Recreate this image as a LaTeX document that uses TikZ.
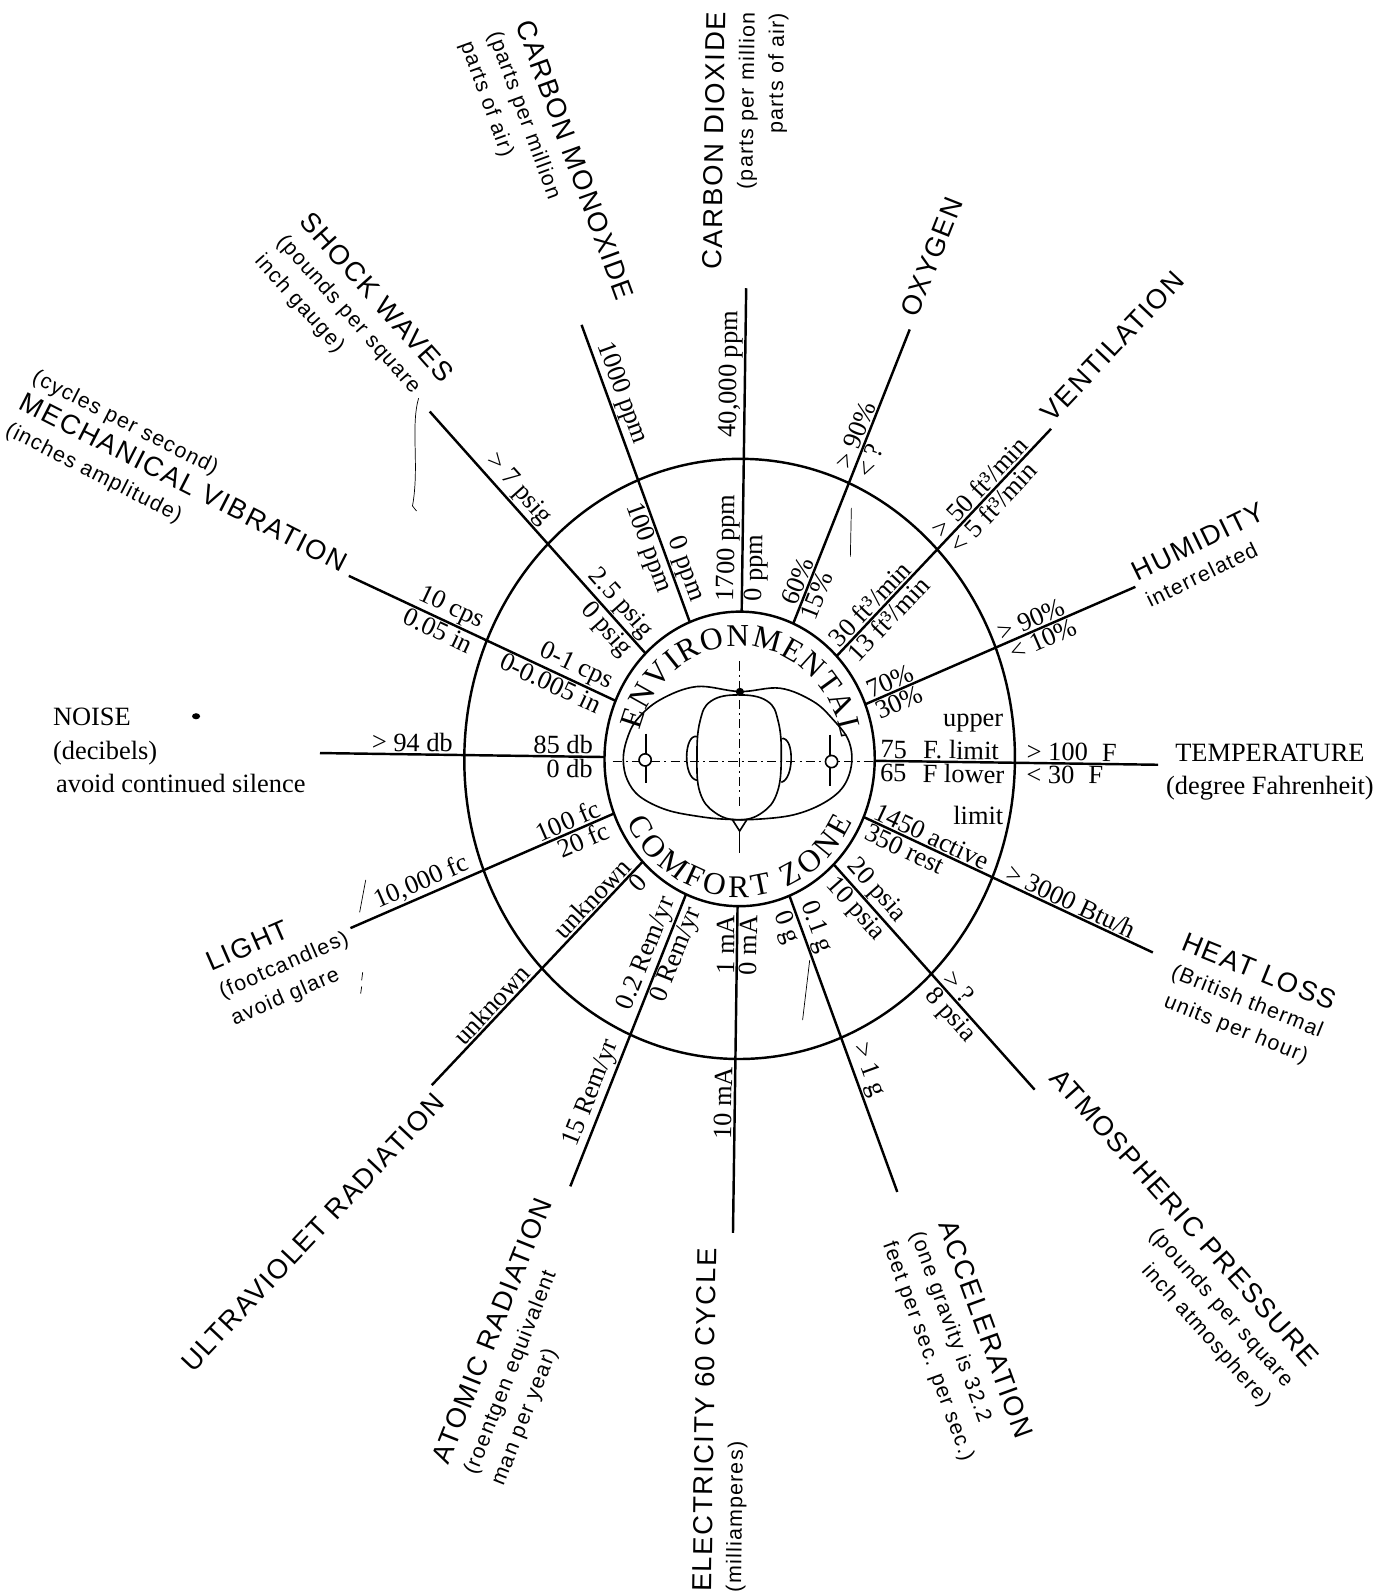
\documentclass[tikz,border=0pt]{standalone}
\usepackage{fontspec}
\setmainfont{Liberation Serif}
\newfontfamily\ttlfam[LetterSpace=6]{Liberation Sans}
\usetikzlibrary{decorations.text}

% type sizes (1 unit = 1pt)
\newcommand\titlefont{\ttlfam\fontsize{27}{31}\selectfont}
\newcommand\subfont{\ttlfam\fontsize{21}{29}\selectfont}
\newcommand\valfont{\rmfamily\fontsize{26}{29}\selectfont}
\newcommand\serfont{\rmfamily\fontsize{26}{33}\selectfont}
\newcommand\ringfont{\rmfamily\fontsize{31}{34}\selectfont}

\tikzset{
  ring/.style={line width=2.4pt},
  spoke/.style={line width=2.4pt},
  val/.style={font=\valfont, inner sep=2.5pt, outer sep=0pt},
  ttl/.style={font=\subfont, inner sep=0pt},
  axisline/.style={line width=1.3pt, dash pattern=on 9pt off 4pt on 2pt off 4pt},
  figure/.style={line width=1.6pt},
  pencil/.style={line width=0.7pt},
}

% value label beside a spoke: name, text angle, anchor, spoke angle, radius, text
\newcommand\lbl[6]{\node[val, rotate=#2, anchor=#3] (#1) at (#4:#5) {#6};}

\begin{document}
\begin{tikzpicture}[x=1pt,y=1pt]
\useasboundingbox (0,0) rectangle (1363,-1568);
\clip (0,0) rectangle (1363,-1568);

% ---------- rings and spokes ----------
\begin{scope}[shift={(728,-747)}, rotate=-0.8, yscale=1.09]
  \draw[ring] (0,0) circle (133);
  \draw[ring] (0,0) circle (271);
  \foreach \a/\L [count=\i] in {90/425, 67.5/422, 45/427, 22.5/419, 0/412,
      -22.5/443, -45/417, -67.5/421, -90/428, -112.5/420, -135/422,
      -157.5/412, 180/413, 157.5/419, 135/438, 112.5/422}{
    \coordinate (in\i) at (\a:133);
    \coordinate (out\i) at (\a:\L);
    \draw[spoke] (in\i) -- (out\i);
  }

  % carbon dioxide
  \lbl{co2o}{89.2}{south west}{90}{288}{40,000 ppm}
  \lbl{co2a}{89.2}{south west}{90}{140}{1700 ppm}
  \lbl{co2b}{89.2}{north west}{90}{140}{0 ppm}
  % oxygen
  \lbl{oxo}{68.4}{south west}{67.5}{280}{> 90\%}
  \lbl{oxp}{68.4}{north west}{67.5}{280}{< ?}
  \lbl{oxa}{68.4}{south west}{67.5}{146}{60\%}
  \lbl{oxb}{68.4}{north west}{67.5}{140}{15\%}
  % ventilation
  \lbl{veo}{46.7}{south west}{45}{279}{> 50 ft³/min}
  \lbl{vep}{46.7}{north west}{45}{280}{< 5 ft³/min}
  \lbl{vea}{46.7}{south west}{45}{138}{30 ft³/min}
  \lbl{veb}{46.7}{north west}{45}{140}{13 ft³/min}
  % humidity
  \lbl{huo}{23.5}{south west}{22.5}{277}{> 90\%}
  \lbl{hup}{23.5}{north west}{22.5}{280}{< 10\%}
  \lbl{hua}{23.5}{south west}{22.5}{138}{70\%}
  \lbl{hub}{23.5}{north west}{22.5}{138}{30\%}
  % temperature
  \lbl{teo}{-0.8}{south west}{0}{280}{> 100\hspace{14pt}F}
  \lbl{tep}{-0.8}{north west}{0}{280}{< 30\hspace{14pt}F}
  \lbl{tea}{-0.8}{south west}{0}{136}{75\hspace{16pt}F. limit}
  \lbl{teb}{-0.8}{north west}{0}{136}{65\hspace{16pt}F lower}
  % heat loss
  \lbl{hlo}{-25.1}{south west}{-22.5}{280}{> 3000 Btu/h}
  \lbl{hla}{-25.1}{south west}{-22.5}{139}{1450 active}
  \lbl{hlb}{-25.1}{north west}{-22.5}{139}{350 rest}
  % atmospheric pressure
  \lbl{apo}{-48.3}{south west}{-45}{280}{> ?}
  \lbl{app}{-48.3}{north west}{-45}{280}{8 psia}
  \lbl{apa}{-48.3}{south west}{-45}{140}{20 psia}
  \lbl{apb}{-48.3}{north west}{-45}{140}{10 psia}
  % acceleration
  \lbl{aco}{-70}{south west}{-67.5}{280}{> 1 g}
  \lbl{aca}{-70}{south west}{-67.5}{142}{0.1 g}
  \lbl{acb}{-70}{north west}{-67.5}{142}{0 g}
  % electricity
  \lbl{elo}{89.2}{south east}{-90}{276}{10 mA}
  \lbl{ela}{89.2}{south east}{-90}{139}{1 mA}
  \lbl{elb}{89.2}{north east}{-90}{139}{0 mA}
  % atomic radiation
  \lbl{aro}{68.4}{south east}{-112.5}{280}{15 Rem/yr}
  \lbl{ara}{68.4}{south east}{-112.5}{140}{0.2 Rem/yr}
  \lbl{arb}{68.4}{north east}{-112.5}{140}{0 Rem/yr}
  % ultraviolet radiation
  \lbl{uvo}{46.7}{south east}{-135}{280}{unknown}
  \lbl{uva}{46.7}{south east}{-135}{142}{unknown}
  \lbl{uvb}{46.7}{north east}{-135}{142}{0}
  % light
  \lbl{lio}{23.5}{south east}{-157.5}{280}{10,000 fc}
  \lbl{lia}{23.5}{south east}{-157.5}{142}{100 fc}
  \lbl{lib}{23.5}{north east}{-157.5}{142}{20 fc}
  % noise
  \lbl{noo}{-0.8}{south east}{180}{280}{> 94 db}
  \lbl{noa}{-0.8}{south east}{180}{142}{85 db}
  \lbl{nob}{-0.8}{north east}{180}{142}{0 db}
  % mechanical vibration
  \lbl{mvo}{-25.1}{south east}{157.5}{280}{10 cps}
  \lbl{mvp}{-25.1}{north east}{157.5}{280}{0.05 in}
  \lbl{mva}{-25.1}{south east}{157.5}{142}{0-1 cps}
  \lbl{mvb}{-25.1}{north east}{157.5}{142}{0-0.005 in}
  % shock waves
  \lbl{swo}{-48.3}{south east}{135}{285}{> 7 psig}
  \lbl{swa}{-48.3}{south east}{135}{142}{2.5 psig}
  \lbl{swb}{-48.3}{north east}{135}{142}{0 psig}
  % carbon monoxide
  \lbl{coo}{-70}{south east}{112.5}{300}{1000 ppm}
  \lbl{coa}{-70}{south east}{112.5}{147}{0 ppm}
  \lbl{cob}{-70}{north east}{112.5}{165}{100 ppm}
\end{scope}

% temperature limit words
\node[val, anchor=east] (teu) at (990,-712) {upper};
\node[val, anchor=east] (tel) at (990,-803) {limit};

% ---------- ring lettering ----------
\begin{scope}[shift={(728,-747)}, rotate=-0.8]
  \path[decorate, decoration={text along path, text align={fit to path},
      text={|\ringfont|ENVIRONMENTAL}}]
    (166:102 and 111) arc[start angle=166, end angle=11, x radius=102, y radius=111];
  \path[decorate, decoration={text along path, text align={fit to path},
      text={|\ringfont|COMFORT ZONE}}]
    (208:125 and 136) arc[start angle=208, end angle=334, x radius=125, y radius=136];
\end{scope}

% ---------- figure in the centre ----------
\draw[axisline] (603,-749.6) -- (859,-749.6);
\draw[axisline] (728,-651) -- (728,-794);
\draw[figure] plot[smooth cycle, tension=0.6] coordinates {
  (728.3,-680.7) (767.8,-677.4) (800.6,-690.5) (820.3,-708.6) (835,-728.3)
  (838.3,-751.2) (830.1,-774.2) (810.4,-790.6) (780.9,-802.1) (744.8,-806.4)
  (715.2,-806.4) (689,-803.8) (656.2,-797.2) (629.9,-784.1) (617.5,-767.7)
  (613.5,-748) (616.9,-728.3) (626.7,-708.6) (649.6,-688.9) (685.7,-675.8)};
\draw[figure] plot[smooth cycle, tension=0.7] coordinates {
  (727,-684) (755,-690) (766,-710) (769,-745) (765,-780) (750,-800)
  (727,-807) (704,-800) (689,-780) (686,-745) (689,-710) (700,-690)};
\draw[figure] (686,-725) .. controls (673,-722) and (672,-766) .. (686,-768);
\draw[figure] (769,-727) .. controls (782,-724) and (782,-767) .. (769,-770);
\fill (728.3,-681) circle (4);
\draw[figure] (721,-807) -- (728,-818) -- (735,-807);
\draw[figure] (728,-818) -- (728,-840);
\draw[figure] (636,-722) -- (636,-771);
\draw[figure] (817,-723) -- (817,-774);
\draw[figure, fill=white] (635,-748) circle (6);
\draw[figure, fill=white] (818.5,-749.6) circle (6);

% ---------- titles at the spoke ends ----------
\node[ttl, rotate=89.2, align=right] (tCO2) at (734,-139)
  {{\titlefont CARBON DIOXIDE}\\(parts per million\\parts of air)};
\node[ttl, rotate=-70, align=left] (tCO) at (537,-168)
  {{\titlefont CARBON MONOXIDE}\\(parts per million\\parts of air)};
\node[ttl, rotate=-48.3, align=left] (tSW) at (348,-313)
  {{\titlefont SHOCK WAVES}\\(pounds per square\\inch gauge)};
\node[ttl, rotate=-27, align=left] (tMV) at (179,-478)
  {(cycles per second)\\{\titlefont MECHANICAL VIBRATION}\\(inches amplitude)};
\node[font=\serfont, align=left, anchor=west, inner sep=0pt] (tNO) at (52,-739)
  {NOISE\\(decibels)\\\hspace{3pt}avoid continued silence};
\node[ttl, rotate=23.5, align=left] (tLI) at (279,-949)
  {{\titlefont LIGHT}\\(footcandles)\\avoid glare};
\node[ttl, rotate=46.7] (tUV) at (308,-1213) {\titlefont ULTRAVIOLET RADIATION};
\node[ttl, rotate=68.4, align=left] (tAR) at (513,-1321)
  {{\titlefont ATOMIC RADIATION}\\(roentgen equivalent\\man per year)};
\node[ttl, rotate=89.2, align=left] (tEL) at (710,-1398)
  {{\titlefont ELECTRICITY 60 CYCLE}\\(milliamperes)};
\node[ttl, rotate=-70, align=left] (tAC) at (942,-1320)
  {{\titlefont ACCELERATION}\\(one gravity is 32.2\\feet per sec. per sec.)};
\node[ttl, rotate=-48.3, align=right] (tAP) at (1143,-1219)
  {{\titlefont ATMOSPHERIC PRESSURE}\\(pounds per square\\inch atmosphere)};
\node[ttl, rotate=-22, align=center] (tHL) at (1228,-985)
  {{\titlefont HEAT LOSS}\\(British thermal\\units per hour)};
\node[font=\serfont, align=center, inner sep=0pt] (tTE) at (1250,-760)
  {TEMPERATURE\\(degree Fahrenheit)};
\node[ttl, rotate=26, align=left] (tHU) at (1186,-546)
  {{\titlefont HUMIDITY}\\interrelated};
\node[ttl, rotate=46.7] (tVE) at (1095,-341) {\titlefont VENTILATION};
\node[ttl, rotate=68.4] (tOX) at (917,-253) {\titlefont OXYGEN};

% ---------- pencil marks ----------
\draw[pencil] (412,-392) .. controls (404,-420) and (413,-460) .. (406,-498) -- (410,-503);
\draw[pencil] (838,-500) -- (837,-548);
\draw[pencil] (360,-866) -- (354,-898);
\draw[pencil] (357,-957) -- (356,-965);
\draw[pencil] (356,-971) -- (355,-978);
\draw[pencil] (797,-945) -- (790,-1004);
\fill (193,-705) ellipse (4 and 3);
\end{tikzpicture}
\end{document}
